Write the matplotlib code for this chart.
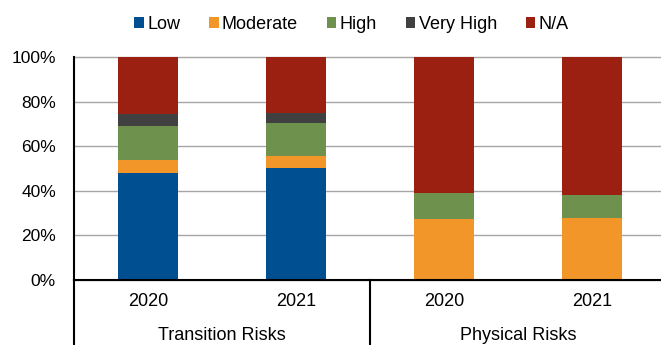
import matplotlib
matplotlib.use("Agg")
import matplotlib.pyplot as plt
import numpy as np
from matplotlib.patches import Patch

plt.rcParams["font.family"] = ["Liberation Sans", "DejaVu Sans"]

groups = ["Transition Risks", "Physical Risks"]
years = ["2020", "2021", "2020", "2021"]
levels = ["Low", "Moderate", "High", "Very High", "N/A"]
colors = ["#005091", "#F2962A", "#6E914E", "#404040", "#9C2012"]

low = [48.0, 50.5, 0.0, 0.0]
moderate = [6.0, 5.2, 27.2, 27.7]
high = [15.0, 14.8, 11.7, 10.3]
very_high = [5.5, 4.5, 0.0, 0.0]
not_available = [25.5, 25.0, 61.1, 62.0]
series = [low, moderate, high, very_high, not_available]

W, H, DPI = 661, 345, 100
fig = plt.figure(figsize=(W / DPI, H / DPI), dpi=DPI)
ax = fig.add_axes([74 / W, 1 - 280 / H, 592 / W, 222.7 / H])

x = np.arange(len(years))
bottom = np.zeros(len(years))
for vals, col in zip(series, colors):
    v = np.array(vals) / 100.0
    ax.bar(x, v, width=0.4, bottom=bottom, color=col, edgecolor="none", zorder=3)
    bottom += v

ax.set_xlim(-0.5, 3.5)
ax.set_ylim(0, 1)
ax.set_yticks(np.linspace(0, 1, 6))
ax.set_yticklabels([f"{int(t * 100)}%" for t in np.linspace(0, 1, 6)], fontsize=12.5)
ax.tick_params(axis="y", length=0, pad=13)
ax.yaxis.grid(True, color="#A6A6A6", linewidth=1.0, zorder=0)
for gl in ax.get_ygridlines():
    gl.set_clip_on(False)

ax.set_xticks([])
for s in ["top", "right"]:
    ax.spines[s].set_visible(False)
ax.spines["left"].set_linewidth(1.5)
ax.spines["bottom"].set_linewidth(1.5)
ax.spines["left"].set_zorder(4)
ax.spines["bottom"].set_zorder(4)

# year labels under each bar
for xi, yr in zip(x, years):
    ax.text(xi, -0.098, yr, ha="center", va="center", fontsize=13,
            transform=ax.get_xaxis_transform())

# group labels and separators
for gi, g in enumerate(groups):
    ax.text(2 * gi + 0.5, -0.25, g, ha="center", va="center", fontsize=13,
            transform=ax.get_xaxis_transform())
for xs in [-0.5, 1.5, 3.5]:
    ax.plot([xs, xs], [0, -0.3], color="black", linewidth=1.5,
            transform=ax.get_xaxis_transform(), clip_on=False, zorder=4)

handles = [Patch(facecolor=c, edgecolor="none") for c in colors]
fig.legend(handles, levels, loc="center", bbox_to_anchor=(351.5 / W, 1 - 24.5 / H),
           ncol=5, frameon=False, fontsize=13, handlelength=0.53, handleheight=0.53,
           handletextpad=0.18, columnspacing=1.6, borderpad=0)

fig.savefig("out.png", dpi=DPI)
